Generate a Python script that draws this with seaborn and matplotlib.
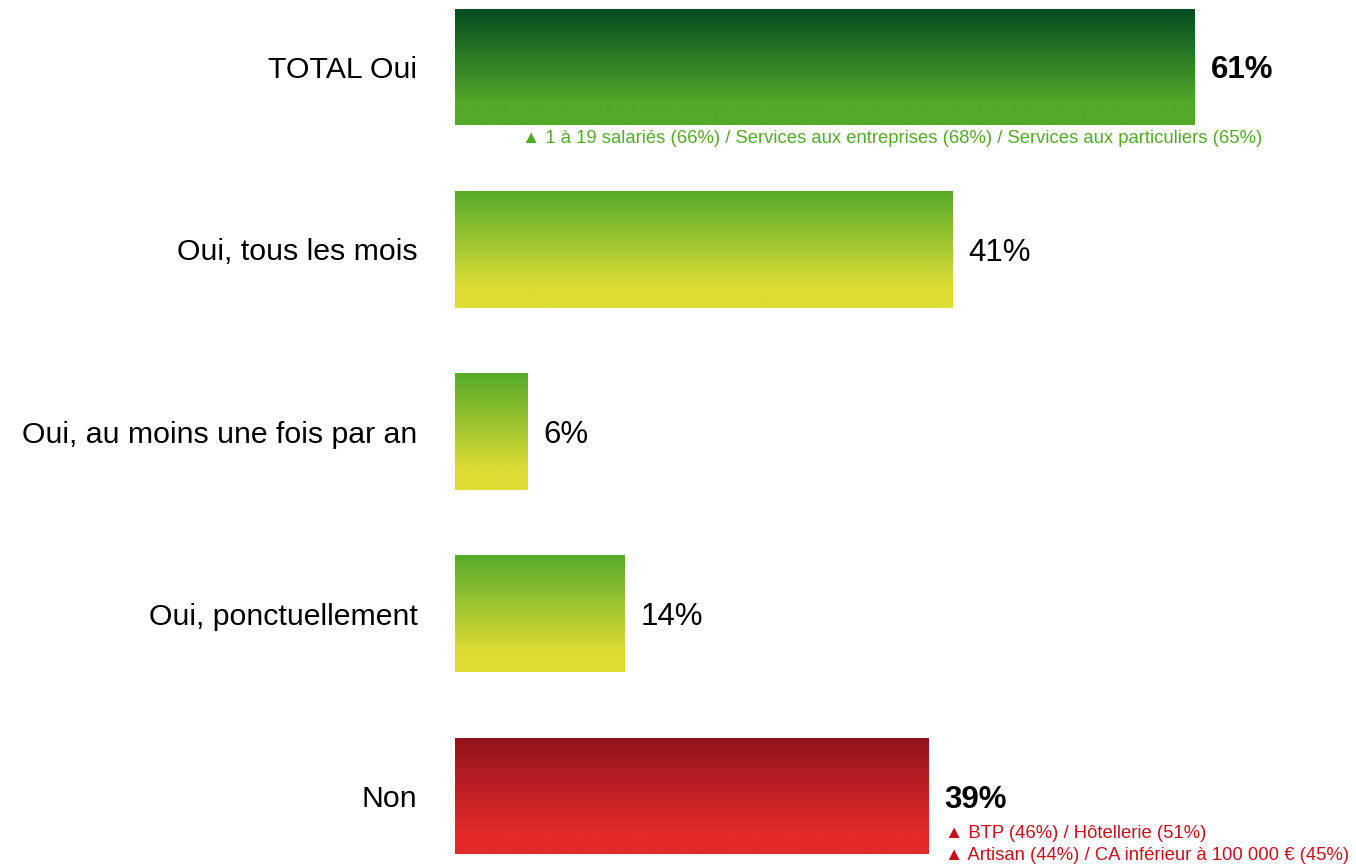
import numpy as np
import pandas as pd
import matplotlib
matplotlib.use("Agg")
import matplotlib.pyplot as plt
from matplotlib.colors import LinearSegmentedColormap
import seaborn as sns

# Données
categories = ["TOTAL Oui", "Oui, tous les mois", "Oui, au moins une fois par an",
              "Oui, ponctuellement", "Non"]
values = [61, 41, 6, 14, 39]
bold_labels = [True, False, False, False, True]
green_note = "\u25B2 1 à 19 salariés (66%) / Services aux entreprises (68%) / Services aux particuliers (65%)"
red_notes = ["\u25B2 BTP (46%) / Hôtellerie (51%)",
             "\u25B2 Artisan (44%) / CA inférieur à 100 000 € (45%)"]

# dégradés (haut -> bas)
gradients = {
    "total": ["#044a22", "#52aa28"],
    "sub": ["#56aa2a", "#dcdc34"],
    "non": ["#92141c", "#e22a2b"],
}
bar_grad = ["total", "sub", "sub", "sub", "non"]

sns.set_theme(style="white")
plt.rcParams['font.family'] = ['Liberation Sans', 'DejaVu Sans']

df = pd.DataFrame({"cat": categories, "val": values})

fig = plt.figure(figsize=(13.56, 8.65), dpi=100)
W, H = 1356, 865
x0_px = 455
px_per_unit = 12.13
xmax = 74
ax = fig.add_axes([x0_px / W, 0, xmax * px_per_unit / W, 1])

sns.barplot(data=df, x="val", y="cat", orient="h", ax=ax, width=0.64,
            color="white", edgecolor="none", linewidth=0)

step = 182.25
ytop = -67 / step
ybot = 4 + (H - 796) / step

# remplissage en dégradé vertical de chaque barre
for patch, g in zip(ax.patches, bar_grad):
    bx, by = patch.get_x(), patch.get_y()
    bw, bh = patch.get_width(), patch.get_height()
    cmap = LinearSegmentedColormap.from_list(
        g, [(0, gradients[g][0]), (0.82, gradients[g][1]), (1, gradients[g][1])])
    grad = np.linspace(0, 1, 256).reshape(-1, 1)
    im = ax.imshow(grad, cmap=cmap, aspect="auto", origin="upper",
                   extent=[bx, bx + bw, by + bh, by], interpolation="bilinear", zorder=2)
    im.set_clip_path(patch)
    patch.set_facecolor("none")

ax.set_xlim(0, xmax)
ax.set_ylim(ybot, ytop)

# étiquettes de catégories
ax.set_yticks(range(len(categories)))
ax.set_yticklabels(categories, fontsize=21.8, color="black")
ax.tick_params(axis="y", length=0, pad=27)
ax.set_xticks([])
ax.set_xlabel("")
ax.set_ylabel("")
sns.despine(ax=ax, left=True, bottom=True, top=True, right=True)

# valeurs
off = 16 / px_per_unit
for i, (v, b) in enumerate(zip(values, bold_labels)):
    ax.text(v + off, i, f"{v}%", va="center_baseline", ha="left", fontsize=22.5,
            fontweight="bold" if b else "normal", color="black")

# notes
ax.text(67 / px_per_unit, 0.39, green_note, fontsize=13.3,
        color="#52aa28", ha="left", va="center")
ax.text(values[4] + 16.5 / px_per_unit, 4 + 0.206, red_notes[0], fontsize=13.3,
        color="#c8101a", ha="left", va="center")
ax.text(values[4] + 16.5 / px_per_unit, 4 + 0.326, red_notes[1], fontsize=13.3,
        color="#c8101a", ha="left", va="center")

fig.savefig("out.png", dpi=100)
